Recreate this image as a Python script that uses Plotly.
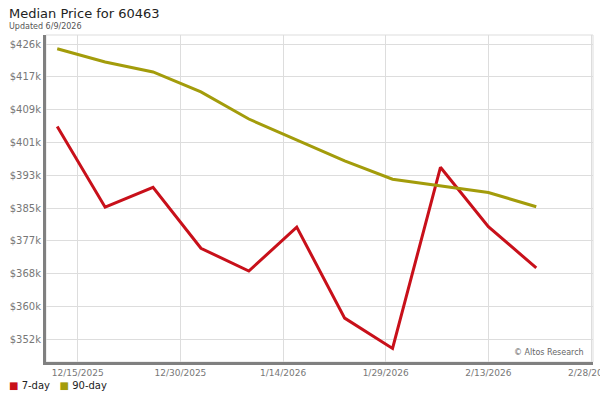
import plotly.graph_objects as go

# ---- data ----
dates = ["2025-12-12", "2025-12-19", "2025-12-26", "2026-01-02", "2026-01-09",
         "2026-01-16", "2026-01-23", "2026-01-30", "2026-02-06", "2026-02-13",
         "2026-02-20"]
price_7day = [405300, 385100, 390100, 374800, 369100, 380100, 357300, 349700,
              395100, 380200, 369900]
price_90day = [424800, 421500, 419000, 414000, 407200, 401900, 396700, 392100,
               390400, 388800, 385200]
series_names = ["7-day", "90-day"]
series_colors = ["#c8101a", "#a39c0b"]

y_tick_vals = [352000 + i * 74000 / 9 for i in range(10)]
y_tick_text = ["$352k", "$360k", "$368k", "$377k", "$385k", "$393k",
               "$401k", "$409k", "$417k", "$426k"]
x_tick_vals = ["2025-12-15", "2025-12-30", "2026-01-14", "2026-01-29",
               "2026-02-13", "2026-02-28"]
x_tick_text = ["12/15/2025", "12/30/2025", "1/14/2026", "1/29/2026",
               "2/13/2026", "2/28/2026"]

FONT = "DejaVu Sans"

fig = go.Figure()
for name, vals, col in zip(series_names, [price_7day, price_90day], series_colors):
    fig.add_trace(go.Scatter(x=dates, y=vals, mode="lines", name=name,
                             line=dict(color=col, width=3),
                             showlegend=False, hoverinfo="x+y"))

legend_text = (f"<span style='color:{series_colors[0]}'>■</span> {series_names[0]}"
               f"   <span style='color:{series_colors[1]}'>■</span> {series_names[1]}")

fig.update_layout(
    width=600, height=400,
    margin=dict(l=46, r=7, t=35, b=38),
    paper_bgcolor="white", plot_bgcolor="white",
    font=dict(family=FONT, size=9, color="#666666"),
    showlegend=False,
    xaxis=dict(type="date", range=["2025-12-10 08:36", "2026-02-28 07:00"],
               tickvals=x_tick_vals, ticktext=x_tick_text,
               showgrid=True, gridcolor="#dddddd", gridwidth=1,
               showline=True, linecolor="#808080", linewidth=3,
               ticks="", zeroline=False, automargin=False,
               ticklabeloverflow="allow",
               tickfont=dict(size=9, color="#777777")),
    yaxis=dict(range=[346300, 428260], tickvals=y_tick_vals, ticktext=y_tick_text,
               showgrid=True, gridcolor="#dddddd", gridwidth=1,
               showline=True, linecolor="#808080", linewidth=3,
               ticks="", zeroline=False, automargin=False,
               tickfont=dict(size=10, color="#777777")),
    shapes=[dict(type="rect", xref="paper", yref="paper", x0=0, x1=1, y0=0, y1=1,
                 line=dict(color="#dddddd", width=1), layer="below")],
    annotations=[
        dict(text="Median Price for 60463", xref="paper", yref="paper",
             x=-0.0713, y=1.067, xanchor="left", yanchor="middle", showarrow=False,
             font=dict(family=FONT, size=13, color="#222222")),
        dict(text="Updated 6/9/2026", xref="paper", yref="paper",
             x=-0.0713, y=1.0275, xanchor="left", yanchor="middle", showarrow=False,
             font=dict(family=FONT, size=8, color="#555555")),
        dict(text="© Altos Research", xref="paper", yref="paper",
             x=0.987, y=0.028, xanchor="right", yanchor="middle",
             showarrow=False, font=dict(size=8, color="#666666")),
        dict(text=legend_text, xref="paper", yref="paper",
             x=-0.0713, y=-0.073, xanchor="left", yanchor="middle",
             showarrow=False, font=dict(size=10, color="#222222")),
    ],
)

fig.write_html("out.html", config={"displayModeBar": False},
               post_script="document.body.style.margin='0';")
